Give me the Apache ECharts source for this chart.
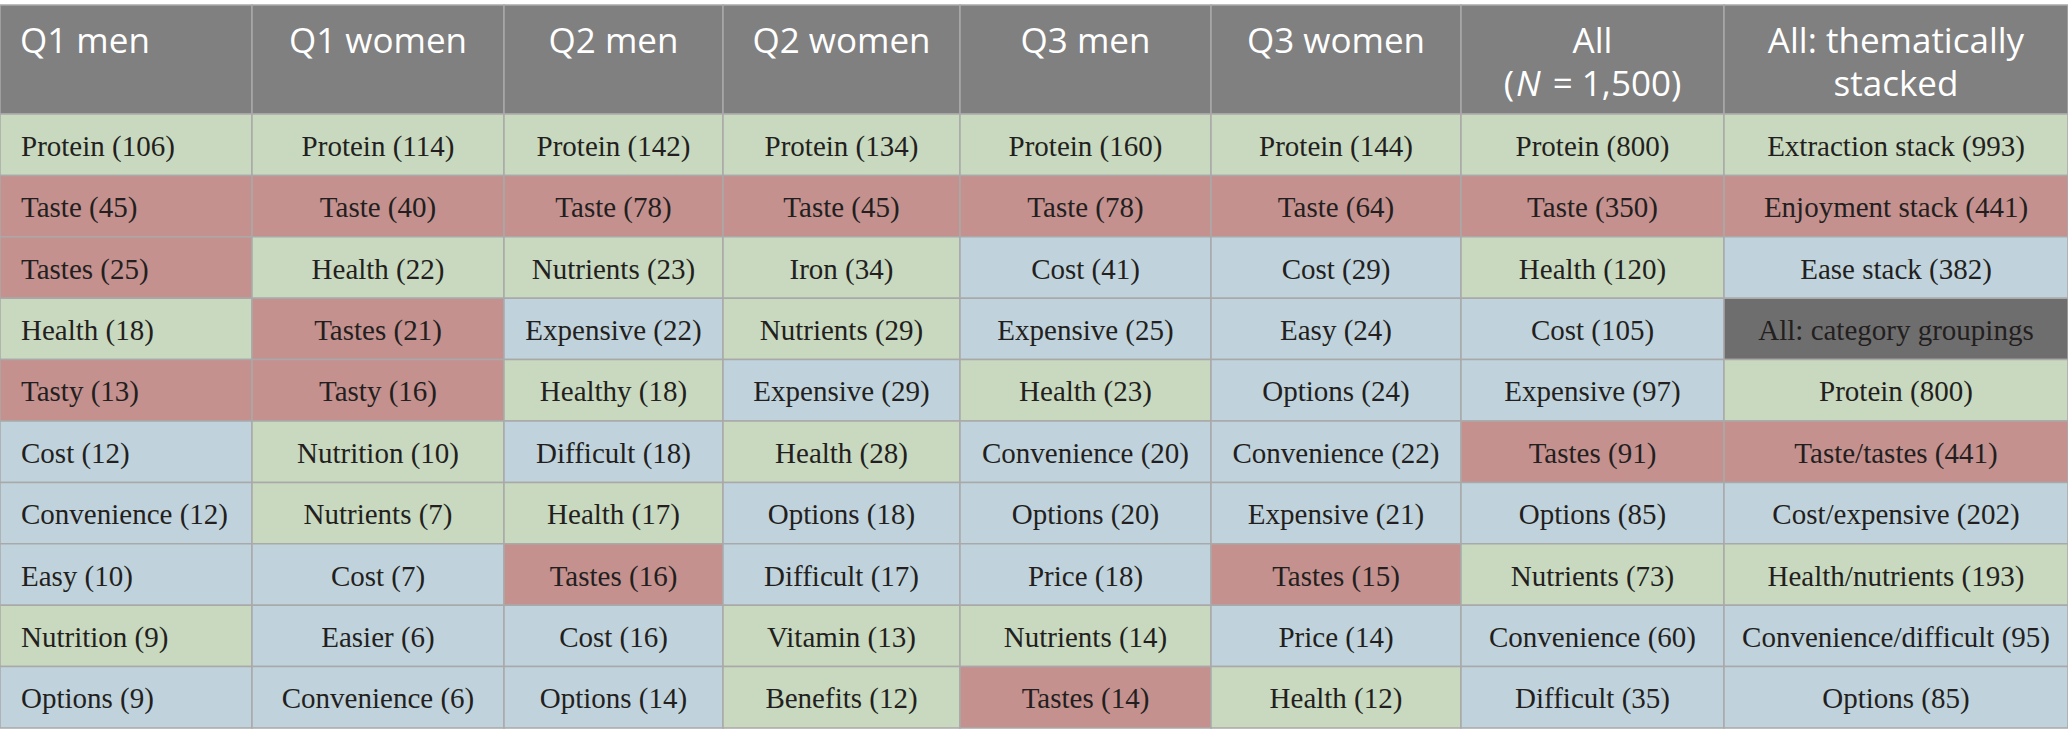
<!DOCTYPE html>
<html>
<head>
<meta charset="utf-8" />
<title>Most frequent terms</title>
<script src="https://cdn.jsdelivr.net/npm/echarts@6/dist/echarts.min.js"></script>
<style>
html, body { margin: 0; padding: 0; background: #fff; }
#main { width: 2068px; height: 747px; }
</style>
</head>
<body>
<div id="main"></div>
<script>
// column headers, one entry per line
var headers = [['Q1 men'], ['Q1 women'], ['Q2 men'], ['Q2 women'], ['Q3 men'], ['Q3 women'],
  ['All', '({n|N} = 1,500)'], ['All: thematically', 'stacked']];

// rank of each row
var ranks = ['1', '2', '3', '4', '5', '6', '7', '8', '9', '10'];

// each column: [term, count, theme]
var q1Men = [['Protein', 106, 'extraction'], ['Taste', 45, 'enjoyment'], ['Tastes', 25, 'enjoyment'],
  ['Health', 18, 'extraction'], ['Tasty', 13, 'enjoyment'], ['Cost', 12, 'ease'],
  ['Convenience', 12, 'ease'], ['Easy', 10, 'ease'], ['Nutrition', 9, 'extraction'], ['Options', 9, 'ease']];
var q1Women = [['Protein', 114, 'extraction'], ['Taste', 40, 'enjoyment'], ['Health', 22, 'extraction'],
  ['Tastes', 21, 'enjoyment'], ['Tasty', 16, 'enjoyment'], ['Nutrition', 10, 'extraction'],
  ['Nutrients', 7, 'extraction'], ['Cost', 7, 'ease'], ['Easier', 6, 'ease'], ['Convenience', 6, 'ease']];
var q2Men = [['Protein', 142, 'extraction'], ['Taste', 78, 'enjoyment'], ['Nutrients', 23, 'extraction'],
  ['Expensive', 22, 'ease'], ['Healthy', 18, 'extraction'], ['Difficult', 18, 'ease'],
  ['Health', 17, 'extraction'], ['Tastes', 16, 'enjoyment'], ['Cost', 16, 'ease'], ['Options', 14, 'ease']];
var q2Women = [['Protein', 134, 'extraction'], ['Taste', 45, 'enjoyment'], ['Iron', 34, 'extraction'],
  ['Nutrients', 29, 'extraction'], ['Expensive', 29, 'ease'], ['Health', 28, 'extraction'],
  ['Options', 18, 'ease'], ['Difficult', 17, 'ease'], ['Vitamin', 13, 'extraction'], ['Benefits', 12, 'extraction']];
var q3Men = [['Protein', 160, 'extraction'], ['Taste', 78, 'enjoyment'], ['Cost', 41, 'ease'],
  ['Expensive', 25, 'ease'], ['Health', 23, 'extraction'], ['Convenience', 20, 'ease'],
  ['Options', 20, 'ease'], ['Price', 18, 'ease'], ['Nutrients', 14, 'extraction'], ['Tastes', 14, 'enjoyment']];
var q3Women = [['Protein', 144, 'extraction'], ['Taste', 64, 'enjoyment'], ['Cost', 29, 'ease'],
  ['Easy', 24, 'ease'], ['Options', 24, 'ease'], ['Convenience', 22, 'ease'],
  ['Expensive', 21, 'ease'], ['Tastes', 15, 'enjoyment'], ['Price', 14, 'ease'], ['Health', 12, 'extraction']];
var allTerms = [['Protein', 800, 'extraction'], ['Taste', 350, 'enjoyment'], ['Health', 120, 'extraction'],
  ['Cost', 105, 'ease'], ['Expensive', 97, 'ease'], ['Tastes', 91, 'enjoyment'],
  ['Options', 85, 'ease'], ['Nutrients', 73, 'extraction'], ['Convenience', 60, 'ease'], ['Difficult', 35, 'ease']];
var allStacked = [['Extraction stack', 993, 'extraction'], ['Enjoyment stack', 441, 'enjoyment'],
  ['Ease stack', 382, 'ease'], ['All: category groupings', null, 'grouping'],
  ['Protein', 800, 'extraction'], ['Taste/tastes', 441, 'enjoyment'], ['Cost/expensive', 202, 'ease'],
  ['Health/nutrients', 193, 'extraction'], ['Convenience/difficult', 95, 'ease'], ['Options', 85, 'ease']];

var columns = [q1Men, q1Women, q2Men, q2Women, q3Men, q3Women, allTerms, allStacked];

// layout
var colWidths = [252, 252, 219, 237, 251, 250, 263, 344];
var colEdges = [0];
for (var i = 0; i < colWidths.length; i++) {
  colEdges.push(colEdges[i] + colWidths[i]);
}
var totalWidth = colEdges[colEdges.length - 1];

var themeColors = {
  extraction: '#c8d9bf',
  enjoyment: '#c4918f',
  ease: '#c0d3dc',
  grouping: '#6e6e6e'
};
var headerColor = '#7f807f';
var lineColor = '#a9a9a9';
var inkColor = '#231f20';
var headFont = { fontFamily: 'Open Sans', fontSize: 35, fill: '#ffffff' };
var headLineGap = 43;

// cells
var headerCells = [];
for (var c = 0; c < headers.length; c++) {
  headerCells.push([c, 0]);
}
var bodyCells = [];
var bodyInfo = [];
for (var c = 0; c < columns.length; c++) {
  for (var r = 0; r < columns[c].length; r++) {
    var t = columns[c][r];
    bodyCells.push([c, r]);
    bodyInfo.push({
      text: t[1] == null ? t[0] : t[0] + ' (' + t[1] + ')',
      theme: t[2]
    });
  }
}

function cellBox(api) {
  var c = api.value(0), r = api.value(1);
  var a = api.coord([colEdges[c], r]);
  var b = api.coord([colEdges[c + 1], r]);
  var h = api.size([0, 1])[1];
  return { c: c, x: a[0], y: a[1] - h / 2, w: b[0] - a[0], h: h, cy: a[1] };
}

function renderHeader(params, api) {
  var box = cellBox(api);
  var first = box.c === 0;
  var children = [{
    type: 'rect',
    shape: { x: box.x, y: box.y, width: box.w, height: box.h },
    style: { fill: headerColor, stroke: lineColor, lineWidth: 1.5 }
  }];
  var lines = headers[box.c];
  for (var k = 0; k < lines.length; k++) {
    children.push({
      type: 'text',
      style: {
        text: lines[k],
        x: first ? box.x + 20 : box.x + box.w / 2,
        y: box.y + 34 + k * headLineGap,
        align: first ? 'left' : 'center',
        verticalAlign: 'middle',
        fontFamily: headFont.fontFamily,
        fontSize: headFont.fontSize,
        fill: headFont.fill,
        rich: {
          n: {
            fontFamily: headFont.fontFamily, fontSize: headFont.fontSize,
            fontStyle: 'italic', fill: headFont.fill, padding: [0, 3, 0, 2]
          }
        }
      }
    });
  }
  return { type: 'group', children: children };
}

function renderBody(params, api) {
  var box = cellBox(api);
  var info = bodyInfo[params.dataIndex];
  var first = box.c === 0;
  return {
    type: 'group',
    children: [{
      type: 'rect',
      shape: { x: box.x, y: box.y, width: box.w, height: box.h },
      style: { fill: themeColors[info.theme], stroke: lineColor, lineWidth: 1.5 }
    }, {
      type: 'text',
      style: {
        text: info.text,
        x: first ? box.x + 21 : box.x + box.w / 2,
        y: box.cy + 1,
        align: first ? 'left' : 'center',
        verticalAlign: 'middle',
        fontFamily: 'Liberation Serif',
        fontSize: 29,
        fill: inkColor
      }
    }]
  };
}

var chart = echarts.init(document.getElementById('main'), null, { renderer: 'svg' });

chart.setOption({
  animation: false,
  backgroundColor: '#ffffff',
  grid: [
    { left: 0, right: 0, top: 5, height: 109 },
    { left: 0, right: 0, top: 114, height: 614 }
  ],
  xAxis: [
    { type: 'value', gridIndex: 0, min: 0, max: totalWidth, show: false },
    { type: 'value', gridIndex: 1, min: 0, max: totalWidth, show: false }
  ],
  yAxis: [
    { type: 'category', gridIndex: 0, data: ['header'], show: false },
    { type: 'category', gridIndex: 1, data: ranks, inverse: true, show: false }
  ],
  series: [{
    type: 'custom',
    name: 'header',
    xAxisIndex: 0,
    yAxisIndex: 0,
    renderItem: renderHeader,
    encode: { x: 0, y: 1 },
    data: headerCells
  }, {
    type: 'custom',
    name: 'terms',
    xAxisIndex: 1,
    yAxisIndex: 1,
    renderItem: renderBody,
    encode: { x: 0, y: 1 },
    data: bodyCells
  }]
});
</script>
</body>
</html>
